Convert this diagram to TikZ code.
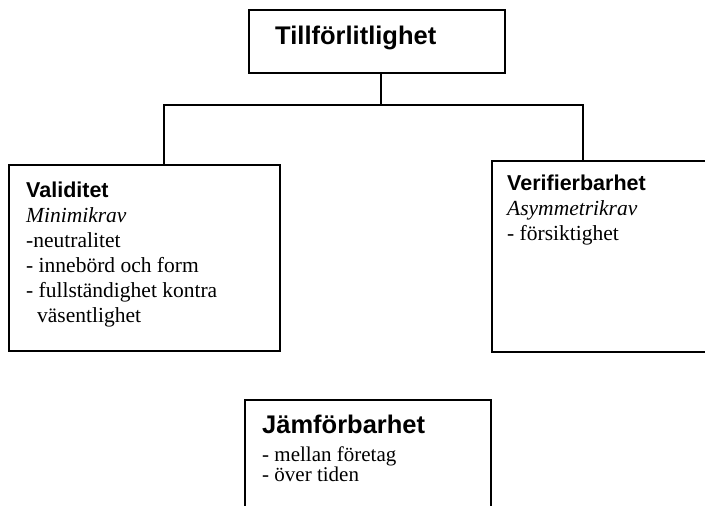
\documentclass[tikz,border=0pt]{standalone}
\usepackage{fontspec}
\setmainfont{Liberation Serif}
\newfontfamily\headfont{Liberation Sans}
\usetikzlibrary{calc}

\tikzset{
  box/.style={draw, line width=2pt, outer sep=0pt, inner sep=0pt, anchor=north west},
  boxtext/.style={inner sep=0pt, anchor=north west, align=left},
  link/.style={line width=2pt}
}
\newcommand{\boxhead}[1]{{\headfont\bfseries #1}}

\begin{document}
\begin{tikzpicture}[x=1pt, y=-1pt]
				\useasboundingbox (0,0) rectangle (705,506);
				
				% boxes
				\node[box, minimum width=256, minimum height=63] (top) at (249,10) {};
				\node[box, minimum width=271, minimum height=186] (valid) at (9,165) {};
				\node[box, minimum width=225, minimum height=191] (verif) at (492,161) {};
				\node[box, minimum width=246, minimum height=120] (jamfor) at (245,400) {};
				
				% texts
				\node[anchor=base west, inner sep=0pt, font=\headfont\bfseries\fontsize{25.5}{30}\selectfont] (title) at ([shift={(26,35)}]top.north west) {Tillförlitlighet};
				\node[boxtext, font=\fontsize{21.5}{25}\selectfont] (validtext) at ([shift={(17,17)}]valid.north west)
				  {\boxhead{Validitet}\\ \textit{Minimikrav}\\ -neutralitet\\ - innebörd och form\\ - fullständighet kontra\\ \hspace*{11pt}väsentlighet};
				\node[boxtext, font=\fontsize{21.5}{25}\selectfont] (veriftext) at ([shift={(15,14)}]verif.north west)
				  {\boxhead{Verifierbarhet}\\ \textit{Asymmetrikrav}\\ - försiktighet};
				\node[boxtext, font=\fontsize{21}{20}\selectfont] (jamfortext) at ([shift={(17,15)}]jamfor.north west)
				  {{\headfont\bfseries\fontsize{25.5}{30}\selectfont Jämförbarhet}\\[8pt] - mellan företag\\ - över tiden};
				
				% connectors
				\draw[link] ([xshift=4pt]top.south) -- ++(0,32) coordinate (hub);
				\draw[link] ([xshift=155pt]valid.north west) |- (hub) -| ([xshift=91pt]verif.north west);
			\end{tikzpicture}
\end{document}
